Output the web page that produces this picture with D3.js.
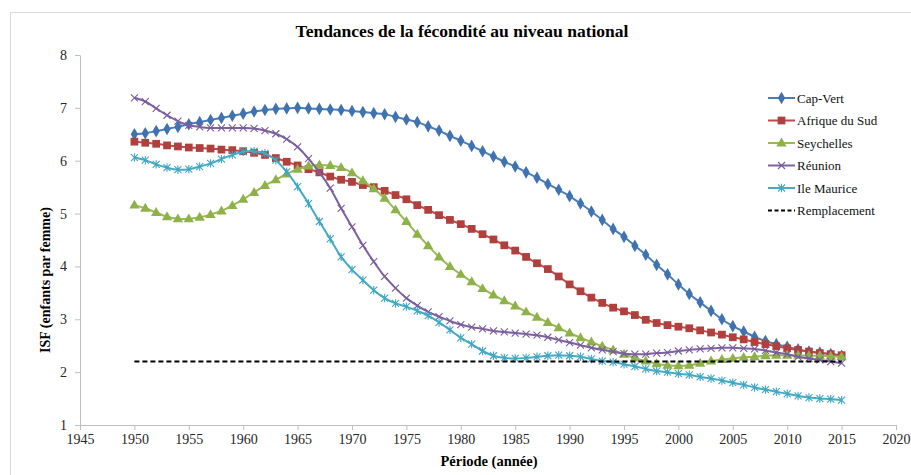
<!DOCTYPE html>
<html>
<head>
<meta charset="utf-8">
<script src="https://cdn.jsdelivr.net/npm/d3@7"></script>
<style>
  body { margin: 0; background: #fff; }
  svg, svg text { font-family: 'Liberation Serif', 'Times New Roman', serif !important; }
</style>
</head>
<body>
<div id="viz"></div>
<script>
// ISF by year, 1950-2015
var years = d3.range(1950, 2016);

var capVert = [6.50, 6.52, 6.56, 6.60, 6.64, 6.69, 6.73, 6.77, 6.81, 6.85, 6.89, 6.93, 6.96, 6.98, 6.99, 7.00, 6.99, 6.98, 6.97, 6.96, 6.94, 6.92,
  6.90, 6.88, 6.83, 6.78, 6.73, 6.65, 6.57, 6.47, 6.38, 6.28, 6.18, 6.08, 5.98, 5.89, 5.78, 5.68, 5.56, 5.45, 5.33, 5.19, 5.04, 4.88,
  4.71, 4.56, 4.39, 4.22, 4.03, 3.85, 3.66, 3.48, 3.32, 3.16, 3.00, 2.87, 2.77, 2.67, 2.59, 2.53, 2.48, 2.43, 2.39, 2.37, 2.34, 2.31];
var afriqueSud = [6.36, 6.34, 6.32, 6.29, 6.27, 6.25, 6.24, 6.23, 6.21, 6.20, 6.18, 6.15, 6.11, 6.05, 5.98, 5.91, 5.84, 5.78, 5.70, 5.64, 5.60, 5.54,
  5.50, 5.43, 5.35, 5.27, 5.16, 5.07, 4.97, 4.88, 4.80, 4.71, 4.61, 4.51, 4.40, 4.30, 4.18, 4.06, 3.95, 3.81, 3.66, 3.53, 3.41, 3.31,
  3.22, 3.15, 3.08, 2.99, 2.93, 2.89, 2.86, 2.83, 2.79, 2.75, 2.71, 2.66, 2.62, 2.57, 2.53, 2.49, 2.45, 2.42, 2.39, 2.36, 2.34, 2.32];
var seychelles = [5.16, 5.10, 5.02, 4.94, 4.90, 4.90, 4.93, 4.98, 5.05, 5.15, 5.27, 5.40, 5.53, 5.64, 5.75, 5.84, 5.90, 5.92, 5.91, 5.87, 5.77, 5.62,
  5.47, 5.29, 5.07, 4.85, 4.61, 4.39, 4.18, 4.00, 3.85, 3.71, 3.58, 3.46, 3.35, 3.25, 3.14, 3.04, 2.94, 2.84, 2.74, 2.65, 2.57, 2.49,
  2.42, 2.34, 2.27, 2.21, 2.16, 2.13, 2.12, 2.13, 2.17, 2.21, 2.24, 2.26, 2.28, 2.29, 2.31, 2.32, 2.32, 2.32, 2.31, 2.31, 2.30, 2.29];
var reunion = [7.19, 7.12, 6.99, 6.86, 6.75, 6.67, 6.64, 6.62, 6.62, 6.62, 6.62, 6.61, 6.57, 6.51, 6.41, 6.26, 6.04, 5.78, 5.48, 5.10, 4.75, 4.40,
  4.09, 3.81, 3.59, 3.40, 3.26, 3.14, 3.05, 2.97, 2.90, 2.85, 2.82, 2.78, 2.76, 2.74, 2.72, 2.70, 2.66, 2.61, 2.56, 2.51, 2.46, 2.42,
  2.39, 2.35, 2.34, 2.34, 2.36, 2.37, 2.40, 2.42, 2.44, 2.45, 2.46, 2.46, 2.45, 2.44, 2.41, 2.37, 2.34, 2.29, 2.26, 2.23, 2.20, 2.17];
var ileMaurice = [6.06, 6.01, 5.93, 5.87, 5.83, 5.84, 5.89, 5.95, 6.03, 6.11, 6.17, 6.18, 6.14, 6.01, 5.79, 5.51, 5.19, 4.85, 4.52, 4.18, 3.94, 3.74,
  3.55, 3.40, 3.30, 3.24, 3.16, 3.07, 2.94, 2.80, 2.65, 2.53, 2.40, 2.31, 2.27, 2.26, 2.27, 2.29, 2.31, 2.32, 2.31, 2.29, 2.25, 2.21,
  2.19, 2.15, 2.11, 2.06, 2.02, 2.00, 1.97, 1.95, 1.91, 1.88, 1.84, 1.80, 1.76, 1.71, 1.67, 1.63, 1.59, 1.55, 1.52, 1.50, 1.49, 1.47];

var remplacementYears = [1950, 2015];
var remplacementValue = 2.2;

var seriesNames = ["Cap-Vert", "Afrique du Sud", "Seychelles", "Réunion", "Ile Maurice"];
var seriesValues = [capVert, afriqueSud, seychelles, reunion, ileMaurice];
var xTicks = d3.range(1945, 2021, 5);
var yTicks = [1, 2, 3, 4, 5, 6, 7, 8];

var W = 911, H = 475;
var margin = { top: 55, left: 80 };
var plotW = 816, plotH = 370;
var serif = "'Liberation Serif', 'Times New Roman', serif";

var lineColors = ["#4A7EBB", "#BE4B48", "#98B954", "#7D60A0", "#46AAC5"];
var markColors = ["#3F72AF", "#B0403D", "#8EB24A", "#7A5C9E", "#3FA6C2"];
var markTypes = ["diamond", "square", "triangle", "cross", "star"];

var svg = d3.select("#viz").append("svg")
    .attr("width", W)
    .attr("height", H)
    .attr("font-family", serif);

// chart frame
svg.append("rect")
    .attr("x", 10.5).attr("y", 12.5)
    .attr("width", 1000).attr("height", 1000)
    .attr("fill", "none")
    .attr("stroke", "#d9d9d9");

svg.append("text")
    .attr("x", 462).attr("y", 37)
    .attr("text-anchor", "middle")
    .style("font-size", "17.5px")
    .style("font-weight", "bold")
    .text("Tendances de la fécondité au niveau national");

var x = d3.scaleLinear().domain([1945, 2020]).range([0, plotW]);
var y = d3.scaleLinear().domain([1, 8]).range([plotH, 0]);

var g = svg.append("g")
    .attr("transform", "translate(" + margin.left + "," + margin.top + ")");

var xAxis = g.append("g")
    .attr("transform", "translate(0," + plotH + ")")
    .call(d3.axisBottom(x).tickValues(xTicks).tickFormat(d3.format("d")).tickSize(5).tickSizeOuter(0).tickPadding(4));
var yAxis = g.append("g")
    .call(d3.axisLeft(y).tickValues(yTicks).tickFormat(d3.format("d")).tickSize(5).tickSizeOuter(0).tickPadding(8));

[xAxis, yAxis].forEach(function(a) {
    a.attr("font-family", serif).attr("font-size", 14);
    a.select(".domain").attr("stroke", "#bfbfbf");
    a.selectAll(".tick line").attr("stroke", "#bfbfbf");
    a.selectAll(".tick text").attr("fill", "#262626");
});

svg.append("text")
    .attr("transform", "translate(50,280) rotate(-90)")
    .attr("text-anchor", "middle")
    .style("font-size", "14px")
    .style("font-weight", "bold")
    .text("ISF (enfants par femme)");

svg.append("text")
    .attr("x", 489).attr("y", 466)
    .attr("text-anchor", "middle")
    .style("font-size", "14.5px")
    .style("font-weight", "bold")
    .text("Période (année)");

function drawMarker(sel, type, color) {
    if (type === "diamond") {
        sel.append("path").attr("d", d3.symbol(d3.symbolDiamond, 46)()).attr("fill", color);
    } else if (type === "square") {
        sel.append("path").attr("d", d3.symbol(d3.symbolSquare, 60)()).attr("fill", color);
    } else if (type === "triangle") {
        sel.append("path").attr("d", d3.symbol(d3.symbolTriangle, 46)()).attr("fill", color)
            .attr("transform", "translate(0,0.5)");
    } else if (type === "cross") {
        sel.append("path").attr("d", "M-3.5,-3.5L3.5,3.5M-3.5,3.5L3.5,-3.5")
            .attr("stroke", color).attr("stroke-width", 1.1).attr("fill", "none");
    } else {
        sel.append("path").attr("d", "M-3.5,-3.5L3.5,3.5M-3.5,3.5L3.5,-3.5M0,-4.2L0,4.2")
            .attr("stroke", color).attr("stroke-width", 1.1).attr("fill", "none");
    }
}

var line = d3.line()
    .x(function(d) { return x(d.year); })
    .y(function(d) { return y(d.value); })
    .curve(d3.curveCatmullRom);

seriesValues.forEach(function(vals, i) {
    var records = years.map(function(yr, k) { return { year: yr, value: vals[k] }; });
    var sg = g.append("g").attr("class", "series");
    sg.append("path")
        .datum(records)
        .attr("d", line)
        .attr("fill", "none")
        .attr("stroke", lineColors[i])
        .attr("stroke-width", 2);
    sg.selectAll("g.mark")
        .data(records).enter()
        .append("g")
        .attr("class", "mark")
        .attr("transform", function(d) { return "translate(" + x(d.year) + "," + y(d.value) + ")"; })
        .each(function() { drawMarker(d3.select(this), markTypes[i], markColors[i]); });
});

g.append("line")
    .attr("x1", x(remplacementYears[0]))
    .attr("x2", x(remplacementYears[1]))
    .attr("y1", y(remplacementValue))
    .attr("y2", y(remplacementValue))
    .attr("stroke", "#000")
    .attr("stroke-width", 2)
    .attr("stroke-dasharray", "5,3");

// legend
var legend = svg.append("g").attr("transform", "translate(768,98)");
var legendNames = seriesNames.concat(["Remplacement"]);
legendNames.forEach(function(name, i) {
    var row = legend.append("g").attr("transform", "translate(0," + (i * 22.5) + ")");
    if (i < 5) {
        row.append("line").attr("x1", 0).attr("x2", 27).attr("y1", 0).attr("y2", 0)
            .attr("stroke", lineColors[i]).attr("stroke-width", 2);
        drawMarker(row.append("g").attr("transform", "translate(13.5,0)"), markTypes[i], markColors[i]);
    } else {
        row.append("line").attr("x1", 0).attr("x2", 27).attr("y1", 0).attr("y2", 0)
            .attr("stroke", "#000").attr("stroke-width", 2).attr("stroke-dasharray", "4,2.5");
    }
    row.append("text")
        .attr("x", 29).attr("y", 4.5)
        .style("font-size", "13px")
        .attr("fill", "#111")
        .text(name);
});
</script>
</body>
</html>
